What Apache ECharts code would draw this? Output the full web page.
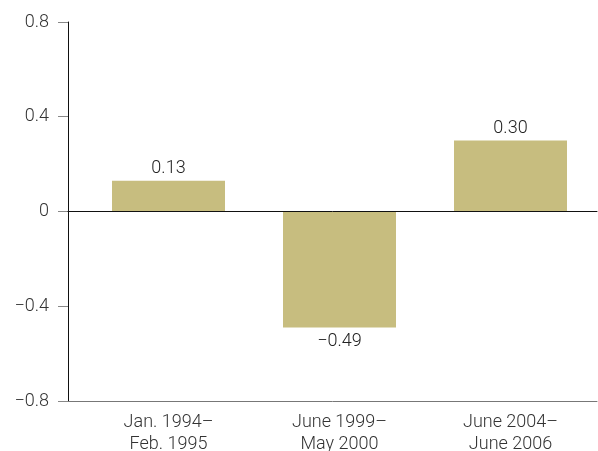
<!DOCTYPE html>
<html>
<head>
<meta charset="utf-8">
<script src="https://cdn.jsdelivr.net/npm/echarts@6/dist/echarts.min.js"></script>
<style>
  html, body { margin: 0; padding: 0; background: #fff; }
  #chart { width: 598px; height: 451px; }
</style>
</head>
<body>
<div id="chart"></div>
<script>
// periods and values
var periods = ['Jan. 1994\u2013\nFeb. 1995', 'June 1999\u2013\nMay 2000', 'June 2004\u2013\nJune 2006'];
var values = [0.13, -0.49, 0.30];
var yTicks = { min: -0.8, max: 0.8, interval: 0.4 };

var minus = function (s) { return String(s).replace('-', '\u2212'); };
var font = 'Roboto, "Liberation Sans", sans-serif';

var chart = echarts.init(document.getElementById('chart'));
var option = {
    animation: false,
    textStyle: { fontFamily: font },
    grid: [
        { left: 68, right: 1, top: 22, bottom: 50, outerBoundsMode: 'none' },   // axis lines
        { left: 83, right: 2, top: 22, bottom: 50, outerBoundsMode: 'none' }    // bars
    ],
    xAxis: [
        {
            // zero line
            gridIndex: 0, type: 'value', min: 0, max: 1, z: 10,
            axisLine: { onZero: true, lineStyle: { color: '#111', width: 1 } },
            axisTick: { show: false }, axisLabel: { show: false }, splitLine: { show: false }
        },
        {
            // bottom line
            gridIndex: 0, type: 'value', min: 0, max: 1, position: 'bottom',
            axisLine: { onZero: false, lineStyle: { color: '#777', width: 1 } },
            axisTick: { show: false }, axisLabel: { show: false }, splitLine: { show: false }
        },
        {
            gridIndex: 1, type: 'category', data: periods,
            axisLine: { show: false }, axisTick: { show: false },
            axisLabel: { color: '#333', fontSize: 18, fontWeight: 300, lineHeight: 22, margin: 10, fontFamily: font }
        }
    ],
    yAxis: [
        {
            gridIndex: 0, type: 'value',
            min: yTicks.min, max: yTicks.max, interval: yTicks.interval,
            axisLine: { show: true, lineStyle: { color: '#111', width: 1 } },
            axisTick: { show: true, length: 10, lineStyle: { color: '#888' } },
            axisLabel: { color: '#333', fontSize: 18, fontWeight: 300, margin: 19, fontFamily: font, formatter: minus },
            splitLine: { show: false }
        },
        {
            gridIndex: 1, type: 'value', show: false,
            min: yTicks.min, max: yTicks.max, interval: yTicks.interval
        }
    ],
    series: [
        {
            type: 'bar',
            xAxisIndex: 2, yAxisIndex: 1,
            barWidth: 113,
            itemStyle: { color: '#c7bd7f' },
            label: {
                show: true,
                position: 'top',
                distance: 3,
                color: '#222',
                fontSize: 18,
                fontWeight: 300,
                fontFamily: font,
                formatter: function (p) { return minus(p.value.toFixed(2)); }
            },
            data: values.map(function (v) {
                return v < 0 ? { value: v, label: { position: 'bottom', distance: 5 } } : v;
            })
        }
    ]
};
chart.setOption(option);
</script>
</body>
</html>
